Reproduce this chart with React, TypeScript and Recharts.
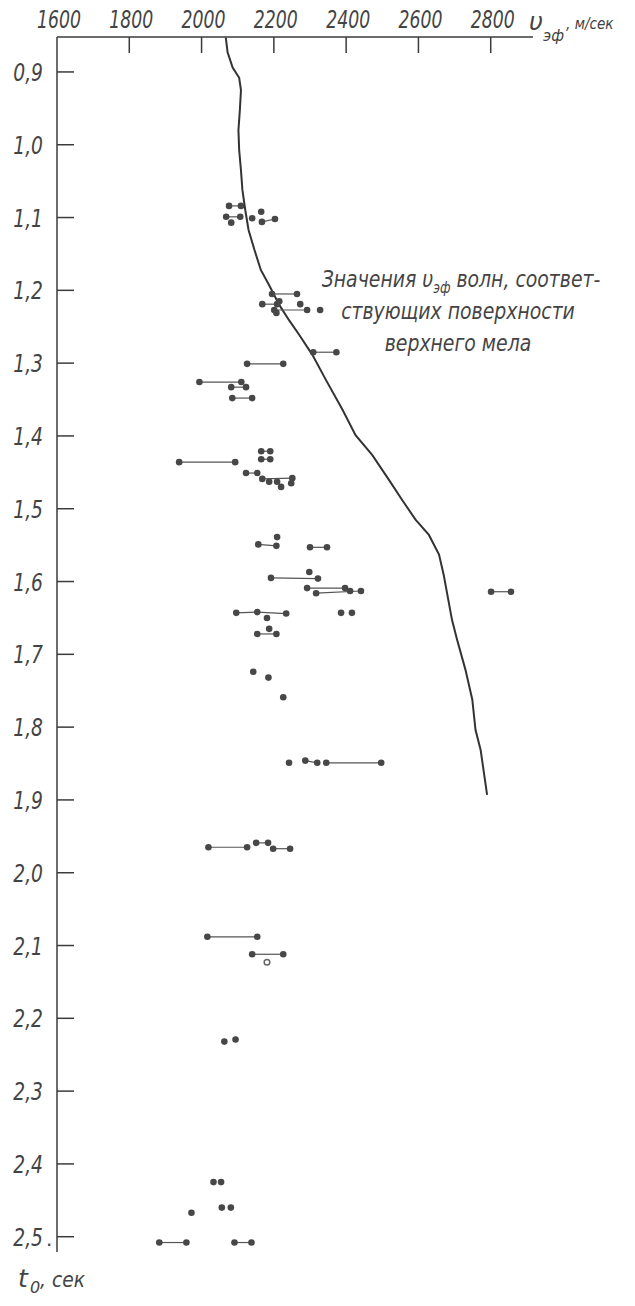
import { ComposedChart, Scatter, XAxis, YAxis } from 'recharts'

const velocityTicks = [1600, 1800, 2000, 2200, 2400, 2600, 2800]
const timeTicks = [0.9, 1.0, 1.1, 1.2, 1.3, 1.4, 1.5, 1.6, 1.7, 1.8, 1.9, 2.0, 2.1, 2.2, 2.3, 2.4, 2.5]

// кривая vэф (поверхность верхнего мела)
const curveV = [
  2067, 2072, 2086, 2104, 2109, 2106, 2102, 2104, 2109, 2113, 2121, 2130, 2146, 2164, 2187, 2215, 2242, 2270, 2307,
  2344, 2390, 2426, 2472, 2518, 2555, 2592, 2629, 2657, 2670, 2680, 2693, 2707, 2730, 2749, 2758, 2772, 2790,
]
const curveT = [
  0.853, 0.873, 0.894, 0.908, 0.925, 0.952, 0.98, 1.007, 1.035, 1.062, 1.09, 1.117, 1.144, 1.172, 1.193, 1.22, 1.241,
  1.261, 1.289, 1.323, 1.364, 1.399, 1.426, 1.46, 1.488, 1.515, 1.536, 1.563, 1.591, 1.618, 1.653, 1.68, 1.721, 1.762,
  1.804, 1.831, 1.893,
]

// точки, соединённые отрезками: [v, t]
const linkedGroups: number[][][] = [
  [[2076, 1.084], [2109, 1.084]],
  [[2068, 1.099], [2107, 1.099]],
  [[2167, 1.106], [2203, 1.102]],
  [[2195, 1.205], [2264, 1.205]],
  [[2168, 1.219], [2209, 1.219]],
  [[2201, 1.227], [2292, 1.227]],
  [[2309, 1.285], [2373, 1.285]],
  [[2126, 1.301], [2226, 1.301]],
  [[1994, 1.326], [2110, 1.326]],
  [[2082, 1.333], [2123, 1.333]],
  [[2085, 1.348], [2140, 1.348]],
  [[2165, 1.421], [2190, 1.421]],
  [[2165, 1.432], [2190, 1.432]],
  [[1938, 1.436], [2093, 1.436]],
  [[2123, 1.451], [2154, 1.451]],
  [[2168, 1.459], [2251, 1.458]],
  [[2157, 1.549], [2207, 1.551]],
  [[2300, 1.553], [2347, 1.553]],
  [[2192, 1.595], [2322, 1.596]],
  [[2292, 1.609], [2397, 1.609]],
  [[2317, 1.616], [2441, 1.613]],
  [[2801, 1.614], [2856, 1.614]],
  [[2096, 1.643], [2154, 1.642], [2234, 1.644]],
  [[2154, 1.672], [2207, 1.672]],
  [[2287, 1.846], [2320, 1.849]],
  [[2345, 1.849], [2497, 1.849]],
  [[2019, 1.965], [2126, 1.965]],
  [[2151, 1.959], [2184, 1.959]],
  [[2198, 1.967], [2245, 1.967]],
  [[2016, 2.088], [2154, 2.088]],
  [[2140, 2.112], [2226, 2.112]],
  [[1883, 2.508], [1958, 2.508]],
  [[2091, 2.508], [2138, 2.508]],
]

const singlePoints = [
  [2082, 1.107], [2140, 1.101], [2165, 1.092],
  [2215, 1.215], [2273, 1.219], [2328, 1.227], [2207, 1.231],
  [2187, 1.463], [2209, 1.463], [2248, 1.465], [2220, 1.47],
  [2209, 1.539], [2298, 1.587], [2411, 1.613],
  [2181, 1.65], [2386, 1.643], [2416, 1.643], [2187, 1.665],
  [2143, 1.724], [2185, 1.732], [2226, 1.759],
  [2242, 1.849],
  [2063, 2.232], [2094, 2.229],
  [2033, 2.425], [2054, 2.425], [2056, 2.46], [2081, 2.46], [1972, 2.467],
]

const hollowPoints = [[2181, 2.123]]

const INK = '#3b3b3b'
const FONT = '"DejaVu Sans", sans-serif'

const toRows = (pts: number[][]) => pts.map(([v, t]) => ({ v, t }))
const curveData = curveV.map((v, i) => ({ v, t: curveT[i] }))

const Dot = (p: any) => <circle cx={p.cx} cy={p.cy} r={3.3} fill="#474747" />
const HollowDot = (p: any) => <circle cx={p.cx} cy={p.cy} r={2.8} fill="#fff" stroke="#666" strokeWidth={1.5} />
const NoDot = () => <g />

function XTick(props: any) {
  const { x, y, payload, index } = props
  return (
    <g>
      {index > 0 && <line x1={x} y1={y} x2={x} y2={y + 16} stroke={INK} strokeWidth={1.5} />}
      <text
        transform={`translate(${x + 2}, ${y - 9}) scale(0.72, 1)`}
        textAnchor="middle"
        fontFamily={FONT}
        fontStyle="italic"
        fontSize={24}
        fill="#444"
      >
        {payload.value}
      </text>
    </g>
  )
}

function YTick(props: any) {
  const { x, y, payload, index, visibleTicksCount } = props
  const label = payload.value.toFixed(1).replace('.', ',')
  const last = index === visibleTicksCount - 1
  return (
    <g>
      <line x1={x} y1={y} x2={x + 17} y2={y} stroke={INK} strokeWidth={1.5} />
      <text
        transform={`translate(${x - 14}, ${y + 9}) scale(0.78, 1)`}
        textAnchor="end"
        fontFamily={FONT}
        fontStyle="italic"
        fontSize={24}
        fill="#444"
      >
        {label}
      </text>
      {last && (
        <text x={x - 11} y={y + 9} fontFamily={FONT} fontSize={20} fill="#444">
          .
        </text>
      )}
    </g>
  )
}

export default function App() {
  const txt = { fontFamily: FONT, fontStyle: 'italic' as const, fill: '#444' }
  return (
    <div style={{ position: 'absolute', left: 0, top: 0, width: 635, height: 1306, background: '#fff' }}>
      <ComposedChart width={635} height={1306} margin={{ top: 0, right: 102, bottom: 54, left: 0 }}>
        <XAxis
          xAxisId={0}
          dataKey="v"
          type="number"
          orientation="top"
          domain={[1600, 2917]}
          ticks={velocityTicks}
          height={37}
          allowDataOverflow
          axisLine={{ stroke: INK, strokeWidth: 1.5 }}
          tickLine={false}
          tickSize={0}
          tickMargin={0}
          tick={<XTick />}
          interval={0}
        />
        <YAxis
          yAxisId={0}
          dataKey="t"
          type="number"
          reversed
          domain={[0.852, 2.521]}
          ticks={timeTicks}
          width={57}
          allowDataOverflow
          axisLine={{ stroke: INK, strokeWidth: 1.5 }}
          tickLine={false}
          tickSize={0}
          tickMargin={0}
          tick={<YTick />}
          interval={0}
        />
        <Scatter
          data={curveData}
          line={{ stroke: '#333', strokeWidth: 2 }}
          lineType="joint"
          shape={NoDot}
          isAnimationActive={false}
        />
        {linkedGroups.map((g, i) => (
          <Scatter
            key={i}
            data={toRows(g)}
            line={{ stroke: '#555', strokeWidth: 1.2 }}
            lineType="joint"
            shape={Dot}
            isAnimationActive={false}
          />
        ))}
        <Scatter data={toRows(singlePoints)} shape={Dot} isAnimationActive={false} />
        <Scatter data={toRows(hollowPoints)} shape={HollowDot} isAnimationActive={false} />
      </ComposedChart>

      <svg width={635} height={1306} style={{ position: 'absolute', left: 0, top: 0, pointerEvents: 'none' }}>
        {/* подпись оси скоростей */}
        <text x={529} y={30} fontSize={24} {...txt}>υ</text>
        <text x={543} y={41} fontSize={15} {...txt}>эф</text>
        <text transform="translate(566, 29) scale(0.85, 1)" fontSize={16} {...txt}>, м/сек</text>

        {/* подпись оси времени */}
        <text x={18} y={1287} fontSize={25} {...txt}>t</text>
        <text x={30} y={1293} fontSize={16} {...txt}>0</text>
        <text transform="translate(40, 1287) scale(0.85, 1)" fontSize={22} {...txt}>, сек</text>

        {/* пояснение к кривой */}
        <text transform="translate(461, 287) scale(0.82, 1)" textAnchor="middle" fontSize={23} {...txt}>
          Значения υ<tspan dy={6} fontSize={15}>эф</tspan>
          <tspan dy={-6}> волн, соответ-</tspan>
        </text>
        <text transform="translate(458, 319) scale(0.82, 1)" textAnchor="middle" fontSize={23} {...txt}>
          ствующих поверхности
        </text>
        <text transform="translate(458, 351) scale(0.82, 1)" textAnchor="middle" fontSize={23} {...txt}>
          верхнего мела
        </text>
      </svg>
    </div>
  )
}
